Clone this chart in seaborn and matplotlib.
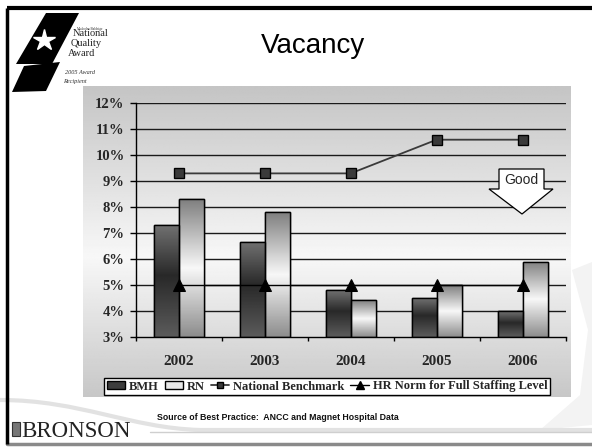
import numpy as np
import pandas as pd
import matplotlib
matplotlib.use("Agg")
import matplotlib.pyplot as plt
import seaborn as sns
from matplotlib.patches import Polygon, Rectangle
from matplotlib.lines import Line2D
from matplotlib.patches import Patch
from matplotlib.path import Path
from matplotlib.patches import PathPatch

# ---- data ----
years = ["2002", "2003", "2004", "2005", "2006"]
bmh = [7.3, 6.65, 4.8, 4.5, 4.0]
rn = [8.3, 7.8, 4.4, 5.0, 5.9]
national_benchmark = [9.3, 9.3, 9.3, 10.6, 10.6]
hr_norm = [5.0, 5.0, 5.0, 5.0, 5.0]
series_names = ["BMH", "RN", "National Benchmark", "HR Norm for Full Staffing Level"]
y_ticks = list(range(3, 13))

W, H = 592, 447
sns.set_theme(style="white")
plt.rcParams["font.family"] = ["Liberation Serif", "DejaVu Serif"]

fig = plt.figure(figsize=(W / 100, H / 100), dpi=100)
fig.patch.set_facecolor("white")


def fx(x):
    return x / W


def fy(y):
    return 1 - y / H


def px(x, y):
    return (fx(x), fy(y))


# ---- slide background / decorations ----
bg = fig.add_axes([0, 0, 1, 1], zorder=0)
bg.set_xlim(0, W)
bg.set_ylim(H, 0)
bg.axis("off")

# soft swoosh at the lower right
sw = Polygon([(572, 270), (592, 262), (592, 425), (540, 430), (580, 395), (588, 330)],
             closed=True, facecolor="#f3f3f3", edgecolor="none", zorder=0)
bg.add_patch(sw)
# curved band at the bottom
verts = [(0, 400), (80, 400), (130, 428), (200, 430), (592, 430)]
codes = [Path.MOVETO, Path.CURVE4, Path.CURVE4, Path.CURVE4, Path.LINETO]
bg.add_patch(PathPatch(Path(verts, codes), facecolor="none", edgecolor="#e2e2e2", lw=3, zorder=0))
bg.plot([150, 592], [432, 432], color="#cfcfcf", lw=1, zorder=1)
bg.plot([7, 592], [444, 444], color="#8a8a8a", lw=2.5, zorder=1)
# frame
bg.plot([7, 592], [8, 8], color="black", lw=3, solid_capstyle="butt", zorder=2)
bg.plot([7, 7], [8, 444], color="black", lw=2.5, solid_capstyle="butt", zorder=2)

# award logo
bg.add_patch(Polygon([(46, 13), (79, 13), (52, 64), (16, 64)], closed=True,
                     facecolor="black", edgecolor="none", zorder=2))
bg.add_patch(Polygon([(24, 66), (60, 62), (46, 91), (12, 92)], closed=True,
                     facecolor="black", edgecolor="none", zorder=2))
bg.plot([44], [40], marker="*", color="white", markersize=16, zorder=3)
bg.text(90, 29, "Malcolm Baldrige", fontsize=2.5, ha="center", va="center", color="#333")
bg.text(91, 34, "National", fontsize=7.5, ha="center", va="center", color="#222")
bg.text(86, 44, "Quality", fontsize=7.5, ha="center", va="center", color="#222")
bg.text(82, 54, "Award", fontsize=7.5, ha="center", va="center", color="#222")
bg.text(80, 72, "2005 Award", fontsize=4.5, style="italic", ha="center", va="center", color="#333")
bg.text(75, 81, "Recipient", fontsize=4.5, style="italic", ha="center", va="center", color="#333")

# title
bg.text(313, 46, "Vacancy", fontsize=20, family="Liberation Sans", ha="center", va="center", color="black")

# footer
bg.add_patch(Rectangle((12, 422), 8, 14, facecolor="#777", edgecolor="#333", lw=0.8, zorder=2))
bg.text(21, 437, "BRONSON", fontsize=16.5, ha="left", va="baseline", color="#222")
bg.text(157, 418, "Source of Best Practice:  ANCC and Magnet Hospital Data", fontsize=6.3,
        family="Liberation Sans", weight="bold", ha="left", va="center", color="#111")

# ---- chart area with vertical gray gradient ----
ca = fig.add_axes([fx(83), fy(397), fx(571) - fx(83), fy(86) - fy(397)], zorder=1)
t = np.linspace(0, 1, 256)
shade = np.interp(t, [0, 0.55, 1], [0.77, 0.97, 0.78])
ca.imshow(np.repeat(shade[:, None], 2, axis=1), cmap="gray", vmin=0, vmax=1,
          aspect="auto", extent=[0, 1, 0, 1])
ca.axis("off")

# ---- plot area ----
ax = fig.add_axes([fx(135.7), fy(336.7), fx(565.7) - fx(135.7), fy(103.4) - fy(336.7)], zorder=2)
ax.patch.set_alpha(0)

df = pd.DataFrame({
    "year": years * 2,
    "group": ["BMH"] * len(years) + ["RN"] * len(years),
    "value": bmh + rn,
})
sns.barplot(data=df, x="year", y="value", hue="group", hue_order=["BMH", "RN"],
            palette={"BMH": "#3c3c3c", "RN": "#e6e6e6"}, width=0.58, gap=0,
            edgecolor="black", linewidth=1, legend=False, ax=ax, zorder=2)

ymin = 3
# vertical gradient fill on every bar
bmh_stops = ([0, 0.45, 1], [0.44, 0.16, 0.36])
rn_stops = ([0, 0.5, 1], [0.50, 0.97, 0.55])
for i, bar in enumerate(ax.patches):
    stops = bmh_stops if i < len(years) else rn_stops
    x0 = bar.get_x()
    w = bar.get_width()
    top = bar.get_height()
    col = np.interp(np.linspace(0, 1, 128), *stops)
    im = ax.imshow(col[:, None], cmap="gray", vmin=0, vmax=1, aspect="auto",
                   extent=[x0, x0 + w, ymin, top], zorder=2.1, interpolation="bilinear")
    im.set_clip_path(bar)
    ax.add_patch(Rectangle((x0, ymin), w, top - ymin, facecolor="none",
                           edgecolor="black", lw=1, zorder=2.2))

sns.pointplot(x=years, y=national_benchmark, color="#3a3a3a", markers="s",
              markersize=7, linewidth=1.3, errorbar=None, ax=ax)
sns.pointplot(x=years, y=hr_norm, color="black", markers="^",
              markersize=8, linewidth=1.0, errorbar=None, ax=ax)
for ln in ax.lines:
    ln.set_zorder(3)
    ln.set_markeredgecolor("black")

ax.set_xlim(-0.5, len(years) - 0.5)
ax.set_ylim(ymin, 12)
ax.set_yticks(y_ticks)
ax.set_yticklabels([f"{v}%" for v in y_ticks], fontsize=10.5, weight="bold")
ax.set_xticks(np.arange(len(years) + 1) - 0.5)
ax.set_xticklabels([])
ax.set_xticks(np.arange(len(years)), minor=True)
ax.set_xticklabels(years, minor=True, fontsize=11, weight="bold")
ax.tick_params(axis="x", which="major", direction="out", length=3, width=1, color="black", bottom=True)
ax.tick_params(axis="x", which="minor", length=0, pad=13)
ax.tick_params(axis="y", direction="out", length=4, width=1, color="black", pad=4, left=True)
ax.set_xlabel("")
ax.set_ylabel("")
for v in y_ticks[1:]:
    ax.axhline(v, color="#1a1a1a", lw=1, zorder=1)
for s in ["top", "right"]:
    ax.spines[s].set_visible(False)
for s in ["left", "bottom"]:
    ax.spines[s].set_color("black")
    ax.spines[s].set_linewidth(1)

# "Good" downward arrow callout
ov = fig.add_axes([0, 0, 1, 1], zorder=3)
ov.set_xlim(0, W)
ov.set_ylim(H, 0)
ov.axis("off")
ov.patch.set_alpha(0)
ov.add_patch(Polygon([(499, 169), (544, 169), (544, 189), (553, 189), (522, 214),
                      (489, 189), (499, 189)], closed=True, facecolor="white",
                     edgecolor="black", lw=0.9))
ov.text(521.5, 180, "Good", fontsize=10, family="Liberation Sans", ha="center", va="center")

# legend
handles = [
    Patch(facecolor="#3c3c3c", edgecolor="black", lw=1),
    Patch(facecolor="#e8e8e8", edgecolor="black", lw=1),
    Line2D([], [], color="#3a3a3a", marker="s", markersize=5, markeredgecolor="black", lw=1.3),
    Line2D([], [], color="black", marker="^", markersize=5.5, lw=1.0),
]
leg = fig.legend(handles, series_names, loc="center", bbox_to_anchor=px(327, 386.5),
                 ncol=4, frameon=True, fancybox=False, framealpha=1, edgecolor="black",
                 prop={"family": "Liberation Serif", "weight": "bold", "size": 9},
                 handlelength=1.5, handleheight=0.6, handletextpad=0.3, columnspacing=0.45,
                 borderpad=0.2, borderaxespad=0)
leg.get_frame().set_linewidth(1)
leg.set_zorder(5)

fig.savefig("out.png", dpi=100)
